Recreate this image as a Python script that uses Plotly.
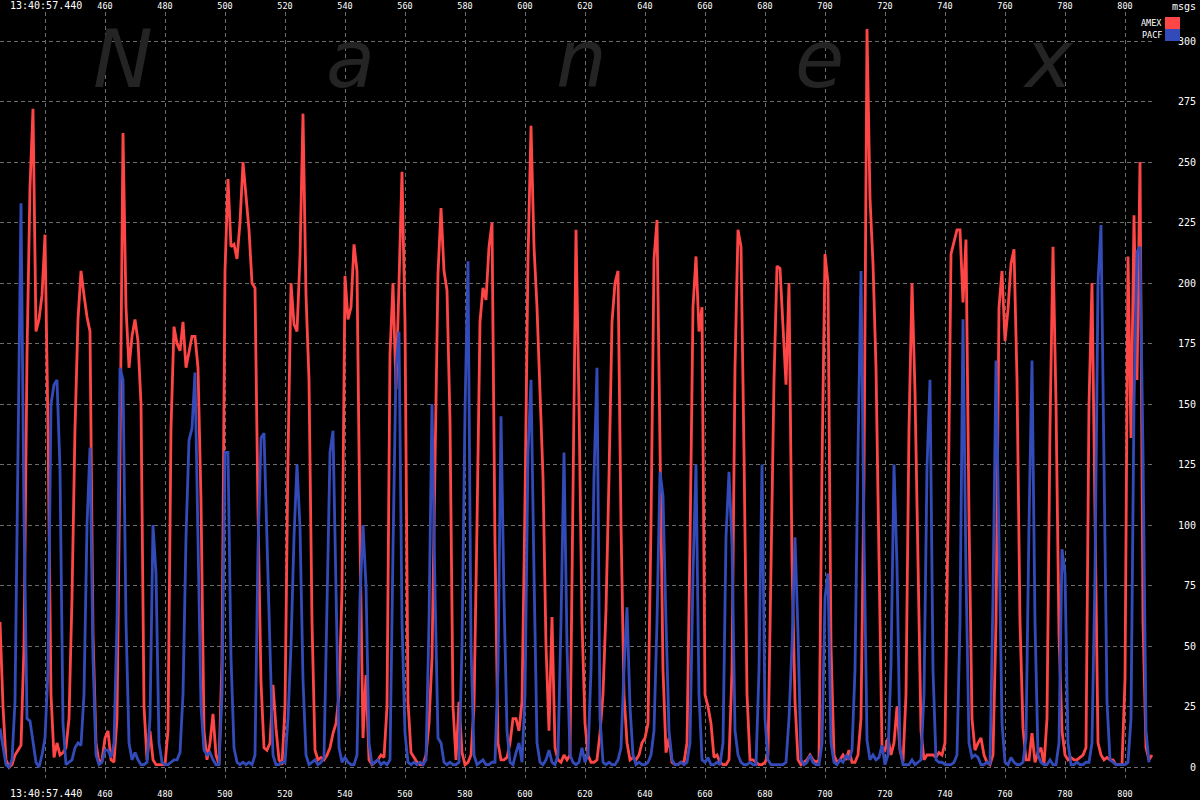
import plotly.graph_objects as go

# ---------------- data ----------------
x_start = 425
amex = [60, 25, 3, 0, 1, 5, 7, 9, 50, 170,
        240, 272, 180, 185, 195, 220, 140, 30, 4, 10,
        5, 6, 8, 20, 70, 140, 185, 205, 195, 186,
        180, 55, 10, 2, 3, 12, 15, 3, 2, 20,
        128, 262, 190, 165, 178, 185, 176, 150, 25, 3,
        15, 3, 1, 1, 1, 1, 15, 140, 182, 175,
        172, 184, 165, 172, 178, 178, 165, 110, 15, 3,
        10, 22, 5, 1, 45, 205, 243, 215, 216, 210,
        225, 250, 235, 222, 200, 198, 106, 35, 8, 7,
        10, 34, 16, 3, 1, 25, 128, 200, 183, 180,
        211, 270, 195, 160, 60, 7, 3, 4, 3, 5,
        8, 14, 18, 30, 73, 203, 185, 190, 216, 205,
        95, 12, 38, 3, 1, 2, 3, 5, 4, 25,
        171, 200, 156, 200, 246, 184, 27, 6, 4, 2,
        1, 1, 5, 18, 45, 128, 204, 231, 205, 197,
        143, 25, 3, 27, 6, 1, 2, 5, 25, 100,
        184, 198, 193, 215, 225, 92, 10, 3, 3, 4,
        10, 20, 20, 15, 27, 110, 210, 265, 215, 190,
        150, 120, 50, 15, 62, 8, 3, 2, 5, 3,
        5, 110, 222, 150, 60, 18, 5, 2, 2, 3,
        14, 30, 65, 120, 184, 200, 205, 100, 30, 10,
        3, 4, 3, 5, 10, 12, 18, 100, 210, 226,
        128, 40, 6, 12, 2, 1, 1, 2, 2, 10,
        92, 190, 211, 180, 190, 30, 25, 18, 4, 5,
        2, 1, 1, 3, 40, 165, 222, 215, 130, 30,
        3, 3, 2, 1, 1, 2, 5, 90, 160, 207,
        206, 182, 158, 200, 85, 27, 3, 1, 2, 3,
        5, 3, 2, 3, 124, 212, 200, 50, 5, 2,
        3, 5, 3, 7, 2, 2, 5, 20, 120, 305,
        235, 208, 165, 80, 8, 7, 12, 5, 10, 25,
        7, 2, 30, 140, 200, 155, 90, 15, 3, 5,
        5, 5, 4, 6, 5, 10, 100, 212, 217, 222,
        222, 192, 218, 103, 20, 7, 10, 12, 5, 2,
        1, 5, 60, 190, 205, 176, 189, 208, 214, 160,
        60, 16, 3, 3, 14, 2, 6, 8, 1, 20,
        140, 215, 150, 55, 15, 5, 3, 4, 3, 3,
        4, 5, 8, 150, 200, 110, 10, 5, 3, 4,
        3, 3, 1, 1, 1, 36, 211, 136, 228, 160,
        250, 60, 8, 3, 5]

pacf = [16, 8, 1, 0, 3, 27, 130, 233, 104, 20,
        19, 10, 2, 0, 5, 12, 40, 150, 158, 160,
        123, 18, 1, 2, 3, 8, 10, 9, 30, 100,
        132, 45, 5, 1, 2, 7, 7, 4, 10, 60,
        165, 160, 60, 10, 3, 6, 3, 1, 1, 2,
        20, 100, 80, 10, 2, 1, 1, 2, 3, 3,
        6, 30, 95, 135, 140, 163, 100, 25, 7, 5,
        6, 3, 1, 1, 30, 130, 130, 45, 8, 2,
        1, 2, 1, 2, 1, 5, 90, 136, 138, 95,
        44, 5, 1, 1, 2, 2, 20, 50, 95, 125,
        99, 36, 5, 1, 2, 3, 1, 2, 4, 60,
        130, 139, 80, 8, 2, 4, 2, 1, 1, 5,
        70, 100, 75, 10, 1, 2, 3, 1, 2, 1,
        3, 90, 165, 180, 60, 14, 2, 1, 2, 1,
        2, 1, 3, 60, 150, 73, 12, 10, 2, 1,
        2, 1, 1, 2, 50, 147, 209, 50, 5, 1,
        2, 3, 1, 1, 2, 2, 40, 145, 70, 15,
        2, 1, 6, 10, 2, 30, 130, 160, 80, 10,
        2, 1, 3, 7, 2, 1, 5, 60, 130, 50,
        5, 2, 1, 2, 8, 2, 5, 40, 120, 165,
        20, 2, 1, 2, 1, 1, 3, 8, 40, 66,
        25, 5, 1, 2, 1, 1, 2, 5, 15, 60,
        122, 112, 60, 15, 3, 1, 1, 2, 1, 2,
        10, 80, 125, 30, 3, 2, 4, 1, 1, 2,
        1, 10, 95, 122, 92, 15, 5, 2, 1, 1,
        2, 1, 1, 40, 125, 20, 3, 1, 1, 1,
        1, 1, 2, 20, 50, 95, 55, 3, 1, 2,
        5, 2, 1, 1, 10, 70, 80, 10, 2, 1,
        3, 2, 5, 3, 7, 40, 130, 205, 95, 11,
        3, 5, 3, 4, 9, 1, 5, 42, 125, 83,
        8, 1, 1, 1, 3, 1, 2, 3, 30, 124,
        160, 40, 3, 2, 2, 1, 1, 1, 2, 5,
        60, 185, 80, 10, 4, 5, 4, 1, 1, 2,
        1, 70, 168, 90, 18, 2, 1, 4, 2, 1,
        1, 2, 12, 100, 168, 60, 5, 2, 1, 1,
        3, 1, 1, 10, 90, 80, 10, 1, 1, 2,
        1, 1, 2, 2, 10, 80, 200, 224, 128, 27,
        3, 2, 1, 1, 1, 1, 2, 20, 150, 213,
        215, 130, 15, 2]

x_vals = list(range(x_start, x_start + len(amex)))
pacf_x = list(range(x_start, x_start + len(pacf)))

x_tick_vals = list(range(440, 801, 20))
x_tick_text = [""] + [str(v) for v in range(460, 801, 20)]
y_tick_vals = list(range(0, 301, 25))
y_tick_text = [str(v).rjust(3).replace(" ", "\u00a0") for v in y_tick_vals]

series_names = ["AMEX", "PACF"]
series_colors = ["#ff4646", "#334bb9"]
time_label = "13:40:57.440"
unit_label = "msgs"
watermark = ["N", "a", "n", "e", "x"]

# ---------------- layout geometry (pixels) ----------------
W, H = 1200, 800
PL, PR, PT, PB = 0, 1155, 12, 778


def px(xp):
    return (xp - PL) / (PR - PL)


def py(yp):
    return (PB - yp) / (PB - PT)


fig = go.Figure()
fig.add_trace(go.Scatter(x=x_vals, y=amex, mode="lines", name=series_names[0],
                         line=dict(color=series_colors[0], width=2.8)))
fig.add_trace(go.Scatter(x=pacf_x, y=pacf, mode="lines", name=series_names[1],
                         line=dict(color=series_colors[1], width=2.8)))
# helper trace so the top axis renders
fig.add_trace(go.Scatter(x=[x_vals[0], x_vals[-1]], y=[0, 0], xaxis="x2",
                         mode="lines", line=dict(width=0), opacity=0,
                         showlegend=False, hoverinfo="skip"))

grid = dict(showgrid=True, gridcolor="#6c6c6c", gridwidth=1, griddash="4px,3px",
            zeroline=False, showline=False, ticks="", automargin=False)

fig.update_layout(
    template="none",
    width=W, height=H,
    paper_bgcolor="black", plot_bgcolor="black",
    margin=dict(l=PL, r=W - PR, t=PT, b=H - PB, pad=0, autoexpand=False),
    showlegend=False,
    font=dict(family="DejaVu Sans Mono", size=10, color="white"),
    xaxis=dict(range=[425, 810], tickmode="array", tickvals=x_tick_vals,
               ticktext=x_tick_text, tickfont=dict(size=8.5, color="white"),
               ticklabelstandoff=9, **grid),
    xaxis2=dict(range=[425, 810], overlaying="x", side="top", matches="x",
                tickmode="array", tickvals=x_tick_vals, ticktext=x_tick_text,
                tickfont=dict(size=8.5, color="white"), showgrid=False,
                zeroline=False, showline=False, ticks="", ticklabelstandoff=0,
                automargin=False),
    yaxis=dict(range=[-4.5, 312], side="right", tickmode="array",
               tickvals=y_tick_vals, ticktext=y_tick_text,
               tickfont=dict(size=10, color="white"), ticklabelstandoff=22,
               **grid),
)

annotations = []
# watermark letters
wm_x = [123, 350, 582, 819, 1048]
wm_size = [80, 80, 80, 80, 80]
wm_y = [59, 60, 60, 60, 60]
for ch, cx, cy, sz in zip(watermark, wm_x, wm_y, wm_size):
    annotations.append(dict(text=ch, x=px(cx), y=py(cy), xref="paper", yref="paper",
                            xanchor="center", yanchor="middle", showarrow=False,
                            font=dict(family="DejaVu Sans", size=sz, color="#242424",
                                      style="italic")))
# time labels top / bottom
annotations.append(dict(text=time_label, x=px(8), y=py(5), xref="paper", yref="paper",
                        xanchor="left", yanchor="middle", showarrow=False,
                        font=dict(size=10, color="white")))
annotations.append(dict(text=time_label, x=px(8), y=py(793), xref="paper", yref="paper",
                        xanchor="left", yanchor="middle", showarrow=False,
                        font=dict(size=10, color="white")))
# unit label
annotations.append(dict(text=unit_label, x=px(1198), y=py(6), xref="paper", yref="paper",
                        xanchor="right", yanchor="middle", showarrow=False,
                        font=dict(size=10, color="white")))
# legend
shapes = []
for i, (nm, col) in enumerate(zip(series_names, series_colors)):
    top = 17 + i * 12
    shapes.append(dict(type="rect", xref="paper", yref="paper",
                       x0=px(1165), x1=px(1180), y0=py(top + 12), y1=py(top),
                       fillcolor=col, line=dict(width=0)))
    annotations.append(dict(text=nm, x=px(1164), y=py(top + 6), xref="paper",
                            yref="paper", xanchor="right", yanchor="middle",
                            showarrow=False, font=dict(size=8.5, color="white")))

fig.update_layout(annotations=annotations, shapes=shapes)
fig.write_html(
    "out.html",
    config={"displayModeBar": False, "staticPlot": True},
    post_script="document.body.style.margin='0px';"
                "document.body.style.overflow='hidden';"
                "document.body.style.background='black';",
)
